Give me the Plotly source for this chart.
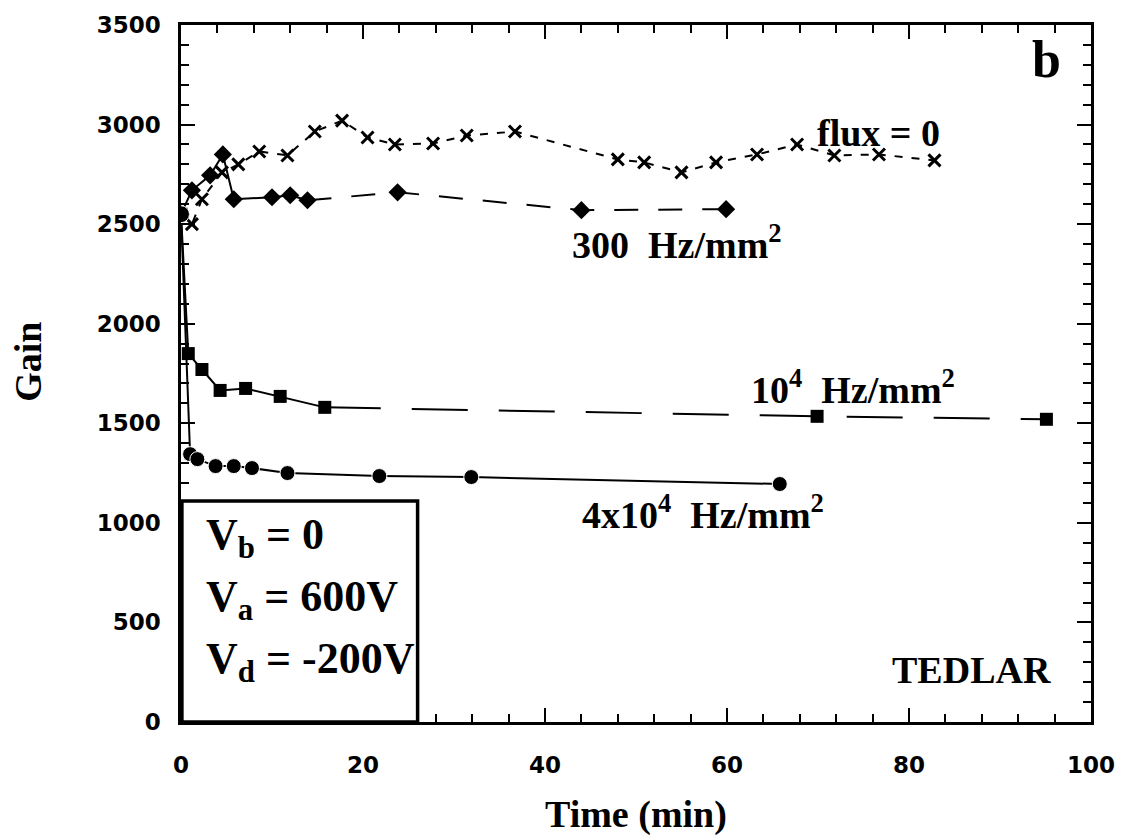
import plotly.graph_objects as go

# ---- data ----
t_flux0 = [0, 1.2, 2.3, 4.5, 6.3, 8.6, 11.7, 14.7, 17.7, 20.5, 23.5, 27.7, 31.4, 36.7,
           48.0, 50.9, 55.0, 58.8, 63.3, 67.7, 71.8, 76.7, 82.8]
g_flux0 = [2550, 2500, 2625, 2760, 2800, 2865, 2845, 2965, 3020, 2935, 2900, 2905, 2945, 2965,
           2825, 2810, 2760, 2810, 2850, 2900, 2845, 2850, 2820]

t_300 = [0, 1.2, 3.2, 4.6, 5.8, 10.0, 12.0, 13.9, 23.8, 44.0, 59.9]
g_300 = [2550, 2670, 2745, 2850, 2625, 2635, 2645, 2620, 2660, 2570, 2575]
solid_end_300 = 8  # first 8 points joined by solid line

t_1e4 = [0, 0.8, 2.3, 4.3, 7.1, 10.9, 15.8, 69.9, 95.1]
g_1e4 = [2550, 1850, 1770, 1665, 1675, 1635, 1580, 1535, 1520]
solid_end_1e4 = 7

t_4e4 = [0, 1.0, 1.8, 3.8, 5.8, 7.8, 11.7, 21.8, 31.9, 65.8]
g_4e4 = [2550, 1345, 1320, 1285, 1285, 1275, 1250, 1235, 1230, 1195]

x_ticks = [0, 20, 40, 60, 80, 100]
y_ticks = [0, 500, 1000, 1500, 2000, 2500, 3000, 3500]

SERIF = "Liberation Serif"
SANS = "DejaVu Sans"
BLACK = "black"

fig = go.Figure()

# flux = 0 : short dashes, x markers
fig.add_trace(go.Scatter(x=t_flux0, y=g_flux0, mode="lines+markers",
                         line=dict(color=BLACK, width=2, dash="8px,9px"),
                         marker=dict(symbol="x-thin", size=12, opacity=1,
                                     line=dict(color=BLACK, width=3))))

# 300 Hz/mm2 : solid at start then long dashes, diamonds
fig.add_trace(go.Scatter(x=t_300[:solid_end_300], y=g_300[:solid_end_300], mode="lines",
                         line=dict(color=BLACK, width=2)))
fig.add_trace(go.Scatter(x=t_300[solid_end_300 - 1:], y=g_300[solid_end_300 - 1:], mode="lines",
                         line=dict(color=BLACK, width=2, dash="24px,20px")))
fig.add_trace(go.Scatter(x=t_300, y=g_300, mode="markers",
                         marker=dict(symbol="diamond", size=14, color=BLACK, opacity=1)))

# 1e4 Hz/mm2 : solid then long dashes, squares
fig.add_trace(go.Scatter(x=t_1e4[:solid_end_1e4], y=g_1e4[:solid_end_1e4], mode="lines",
                         line=dict(color=BLACK, width=2)))
fig.add_trace(go.Scatter(x=t_1e4[solid_end_1e4 - 1:], y=g_1e4[solid_end_1e4 - 1:], mode="lines",
                         line=dict(color=BLACK, width=2, dash="56px,31px")))
fig.add_trace(go.Scatter(x=t_1e4, y=g_1e4, mode="markers",
                         marker=dict(symbol="square", size=13, color=BLACK, opacity=1)))

# 4e4 Hz/mm2 : solid, circles
fig.add_trace(go.Scatter(x=t_4e4, y=g_4e4, mode="lines+markers",
                         line=dict(color=BLACK, width=2),
                         marker=dict(symbol="circle", size=[17] + [15] * (len(t_4e4) - 1),
                                     color=BLACK, opacity=1)))

ann_font = dict(family=SERIF, size=38, color=BLACK, weight="bold")
box_font = dict(family=SERIF, size=44, color=BLACK, weight="bold")

annotations = [
    dict(x=95.1, y=3325, text="b", font=dict(family=SERIF, size=52, color=BLACK, weight="bold")),
    dict(x=76.7, y=2960, text="flux = 0", font=ann_font),
    dict(x=42.7, y=2410, text="300  Hz/mm<sup>2</sup>", font=ann_font, xanchor="left"),
    dict(x=62.4, y=1680, text="10<sup>4</sup>  Hz/mm<sup>2</sup>", font=ann_font, xanchor="left"),
    dict(x=43.8, y=1055, text="4x10<sup>4</sup>  Hz/mm<sup>2</sup>", font=ann_font, xanchor="left"),
    dict(x=86.9, y=260, text="TEDLAR", font=ann_font),
    dict(x=2.5, y=925, text="V<sub>b</sub> = 0", font=box_font, xanchor="left"),
    dict(x=2.5, y=615, text="V<sub>a</sub> = 600V", font=box_font, xanchor="left"),
    dict(x=2.5, y=305, text="V<sub>d</sub> = -200V", font=box_font, xanchor="left"),
]
for a in annotations:
    a.update(xref="x", yref="y", showarrow=False, yanchor=a.get("yanchor", "middle"),
             xanchor=a.get("xanchor", "center"))

# axis titles
annotations.append(dict(xref="paper", yref="paper", x=0.5, y=-0.133, text="Time (min)",
                        xanchor="center", yanchor="middle", showarrow=False,
                        font=dict(family=SERIF, size=38, color=BLACK, weight="bold")))
annotations.append(dict(xref="paper", yref="paper", x=-0.169, y=0.517, text="Gain", textangle=-90,
                        xanchor="center", yanchor="middle", showarrow=False,
                        font=dict(family=SERIF, size=38, color=BLACK, weight="bold")))

axis_common = dict(showgrid=False, zeroline=False, showline=True, linecolor=BLACK, linewidth=2.5,
                   mirror="ticks", ticks="inside", ticklen=14, tickwidth=2, tickcolor=BLACK,
                   tickfont=dict(family=SANS, size=23, color=BLACK, weight="bold"))

fig.update_layout(
    width=1127, height=840,
    margin=dict(l=181, r=35, t=22, b=118),
    paper_bgcolor="white", plot_bgcolor="white",
    showlegend=False,
    annotations=annotations,
    shapes=[dict(type="rect", xref="x", yref="y", x0=0.1, x1=26.0, y0=0, y1=1110,
                 line=dict(color=BLACK, width=3.5), fillcolor="white", layer="above")],
    xaxis=dict(range=[0, 100], tickvals=x_ticks, ticklabelstandoff=21,
               minor=dict(dtick=4, ticks="inside", ticklen=8, tickwidth=2, tickcolor=BLACK),
               **axis_common),
    yaxis=dict(range=[0, 3500], tickvals=y_ticks, ticklabelstandoff=13,
               minor=dict(dtick=100, ticks="inside", ticklen=8, tickwidth=2, tickcolor=BLACK),
               **axis_common),
)

# remove the browser's default 8px body margin so the figure sits at the page corner
fig.write_html("out.html", config={"displayModeBar": False},
               post_script="document.body.style.margin='0px';")
